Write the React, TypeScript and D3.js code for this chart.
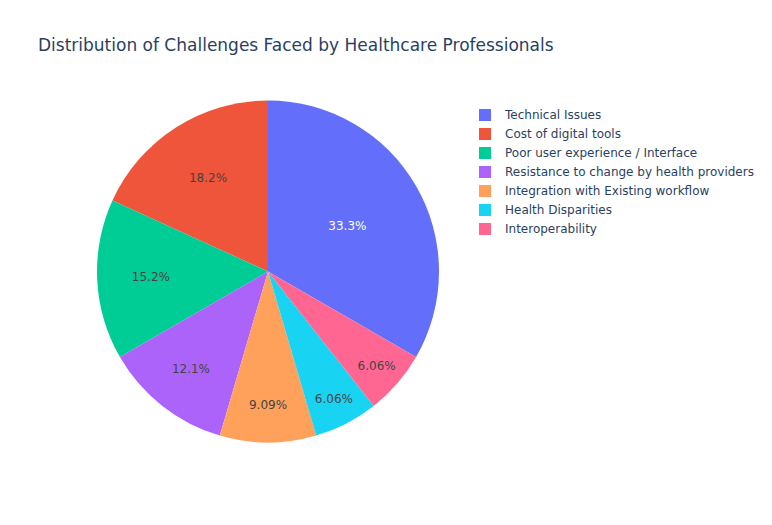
import * as d3 from "d3";

const WIDTH = 772;
const HEIGHT = 525;
const CENTER = { x: 268, y: 271.5 };
const RADIUS = 171;
const FONT = '"DejaVu Sans", verdana, arial, sans-serif';

// challenge categories, in legend order (largest first)
const categories = [
  "Technical Issues",
  "Cost of digital tools",
  "Poor user experience / Interface",
  "Resistance to change by health providers",
  "Integration with Existing workflow",
  "Health Disparities",
  "Interoperability",
];
const counts = [11, 6, 5, 4, 3, 2, 2];
const colors = ["#636efa", "#EF553B", "#00cc96", "#ab63fa", "#FFA15A", "#19d3f3", "#FF6692"];

const rows = categories.map((name, i) => ({ name, value: counts[i], color: colors[i] }));

// plotly-like text colour: white on dark slices, grey on light ones
const textColor = (c: string) => {
  const rgb = d3.rgb(c);
  const brightness = (rgb.r * 299 + rgb.g * 587 + rgb.b * 114) / 1000;
  return brightness < 128 ? "#ffffff" : "#444444";
};

const fmtPct = (p: number) => {
  const v = p * 100;
  return `${d3.format(".3")(v)}%`;
};

export default function App() {
  const total = d3.sum(rows, (d) => d.value);
  const start = (2 * Math.PI * rows[0].value) / total;

  // counterclockwise, first slice ending at 12 o'clock
  const pie = d3
    .pie<(typeof rows)[number]>()
    .sort(null)
    .value((d) => d.value)
    .startAngle(start)
    .endAngle(start - 2 * Math.PI);

  const arcs = pie(rows);
  const arc = d3.arc<d3.PieArcDatum<(typeof rows)[number]>>().innerRadius(0).outerRadius(RADIUS);

  const labels = arcs.map((a) => {
    const mid = (a.startAngle + a.endAngle) / 2;
    const half = Math.abs(a.endAngle - a.startAngle) / 2;
    // inscribed circle fraction, same idea as plotly's inside text placement
    const inscribed = Math.min(1 / (1 + 1 / Math.sin(half)), 0.5);
    const r = RADIUS * (1 - inscribed);
    return {
      x: Math.sin(mid) * r,
      y: -Math.cos(mid) * r,
      text: fmtPct(a.data.value / total),
      fill: textColor(a.data.color),
    };
  });

  return (
    <svg width={WIDTH} height={HEIGHT} style={{ display: "block", position: "absolute", left: 0, top: 0, background: "white" }}>
      <text x={38} y={51} fontFamily={FONT} fontSize={17} fill="#2a3f5f">
        Distribution of Challenges Faced by Healthcare Professionals
      </text>

      <g transform={`translate(${CENTER.x},${CENTER.y})`}>
        {arcs.map((a, i) => (
          <path key={i} d={arc(a) || ""} fill={a.data.color} />
        ))}
        {labels.map((l, i) => (
          <text
            key={i}
            x={l.x}
            y={l.y}
            textAnchor="middle"
            dominantBaseline="central"
            fontFamily={FONT}
            fontSize={12}
            fill={l.fill}
          >
            {l.text}
          </text>
        ))}
      </g>

      <g transform="translate(479,115)">
        {rows.map((d, i) => (
          <g key={i} transform={`translate(0,${i * 19})`}>
            <rect x={0} y={-6} width={12} height={12} fill={d.color} />
            <text x={26} y={0} dominantBaseline="central" fontFamily={FONT} fontSize={12} fill="#2a3f5f">
              {d.name}
            </text>
          </g>
        ))}
      </g>
    </svg>
  );
}
